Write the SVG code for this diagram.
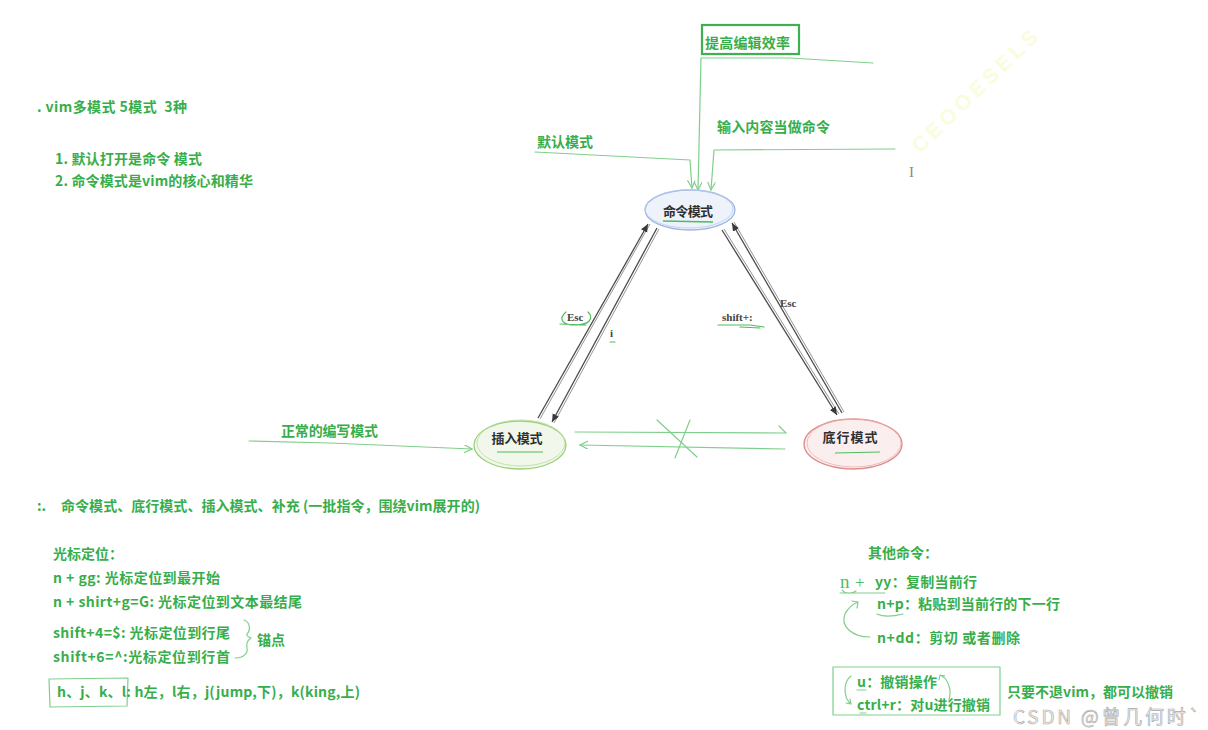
<svg xmlns="http://www.w3.org/2000/svg" width="1208" height="730" viewBox="0 0 1208 730">
<defs>
<style>
.g{font-family:"Noto Sans CJK SC","Noto Sans",sans-serif;font-weight:bold;fill:#37ae4b;font-size:14px}
.n{font-family:"Noto Sans CJK SC","Noto Sans",sans-serif;font-weight:bold;fill:#2f2f2f;font-size:13px}
.s{font-family:"Liberation Serif",serif;font-weight:bold;fill:#444;font-size:11px}
.gl{fill:none;stroke:#7fcf8c;stroke-width:1.2;stroke-linecap:round;stroke-linejoin:round}
.gs{fill:none;stroke:#4fbb5f;stroke-width:1.2;stroke-linecap:round}
.dk{fill:none;stroke:#4a4a4a;stroke-width:1.3}
.dk2{fill:none;stroke:#8a8a8a;stroke-width:0.9}
</style>
<marker id="og" markerWidth="10" markerHeight="10" refX="8" refY="4" orient="auto" markerUnits="userSpaceOnUse">
<path d="M0,0 L8,4 L0,8" fill="none" stroke="#7fcf8c" stroke-width="1.2"/>
</marker>
<marker id="ad" markerWidth="10" markerHeight="10" refX="8" refY="3.5" orient="auto" markerUnits="userSpaceOnUse">
<path d="M0,0 L8,3.5 L0,7 Z" fill="#3a3a3a"/>
</marker>
</defs>
<rect width="1208" height="730" fill="#ffffff"/>

<!-- faint watermark -->
<text x="0" y="0" transform="translate(920,154) rotate(-44)" font-family="Liberation Sans,sans-serif" font-weight="bold" font-size="21" fill="#fafcdc" textLength="166">CEOOESELS</text>
<text x="909" y="177" font-family="Liberation Serif,serif" font-size="15" fill="#888">I</text>

<!-- left notes -->
<g id="intro">
<text class="g" x="37" y="112" textLength="150" xml:space="preserve">. vim多模式 5模式  3种</text>
<text class="g" x="55" y="164" textLength="147">1. 默认打开是命令 模式</text>
<text class="g" x="55" y="186" textLength="198">2. 命令模式是vim的核心和精华</text>
</g>

<g id="efficiency">
<rect x="702" y="25" width="97" height="29" fill="none" stroke="#3fb052" stroke-width="2.2"/>
<text class="g" x="705" y="48" textLength="85">提高编辑效率</text>
</g>
<g id="label-default"><text class="g" x="537" y="147" textLength="56">默认模式</text></g>
<g id="label-input"><text class="g" x="717" y="132" textLength="113">输入内容当做命令</text></g>
<g id="label-normal"><text class="g" x="281" y="436" textLength="97">正常的编写模式</text></g>

<!-- connectors -->
<g id="connectors">
<path class="gl" d="M873,63 L790,58 L701,58 L698,190" marker-end="url(#og)"/>
<path class="gl" d="M535,152 L690,160 L692,188" marker-end="url(#og)"/>
<path class="gl" d="M895,149 L714,150 L711,190" marker-end="url(#og)"/>
<path class="gl" d="M249,441 L330,443 L472,449" marker-end="url(#og)"/>
<path class="gl" d="M575,432 L785,433 M779,426 L786,433"/>
<path class="gl" d="M785,449 L580,445" marker-end="url(#og)"/>
<path class="gl" d="M657,420 L697,457 M690,420 L675,458"/>

<path class="dk2" d="M540,419 L650,224"/>
<path class="dk" d="M538,418 L648,224" marker-end="url(#ad)"/>
<path class="dk2" d="M659,229 L554,423"/>
<path class="dk" d="M657,228 L552,422" marker-end="url(#ad)"/>
<path class="dk2" d="M724,229 L839,414"/>
<path class="dk" d="M722,230 L837,415" marker-end="url(#ad)"/>
<path class="dk2" d="M844,412 L734,222"/>
<path class="dk" d="M842,413 L732,223" marker-end="url(#ad)"/>

<text class="s" x="567" y="321">Esc</text>
<path class="gs" d="M588,312 C594,318 590,325 575,325 C562,325 558,319 566,312 M560,324 L586,325"/>
<text class="s" x="610" y="337">i</text>
<path class="gs" d="M610,342 L615,342"/>
<text class="s" x="722" y="321">shift+:</text>
<path class="gs" d="M718,325 L750,325 L764,327 M740,327 L760,328"/>
<text class="s" x="780" y="307">Esc</text>
</g>

<!-- nodes -->
<g id="node-command">
<ellipse cx="690" cy="210" rx="45" ry="20" fill="#edf2fb" stroke="#9fb7e2" stroke-width="1.3"/>
<ellipse cx="689" cy="209" rx="44" ry="19" fill="none" stroke="#b9cbec" stroke-width="0.8"/>
<text class="n" x="688" y="216" text-anchor="middle" textLength="50">命令模式</text>
<path d="M663,221 L713,222" stroke="#4fbb5f" stroke-width="1.3" fill="none"/>
</g>
<g id="node-insert">
<ellipse cx="520" cy="445" rx="46" ry="24" fill="#f1f7ea" stroke="#9dd07c" stroke-width="1.3"/>
<ellipse cx="521" cy="443" rx="44" ry="23" fill="none" stroke="#b7dd9c" stroke-width="0.8"/>
<text class="n" x="517" y="443" text-anchor="middle" textLength="51">插入模式</text>
<path d="M497,452 L543,452" stroke="#4fbb5f" stroke-width="1.1" fill="none"/>
</g>
<g id="node-bottom">
<ellipse cx="853" cy="444" rx="49" ry="25" fill="#fbeeee" stroke="#e08e8e" stroke-width="1.3"/>
<ellipse cx="854" cy="443" rx="47" ry="24" fill="none" stroke="#eab2b2" stroke-width="0.8"/>
<text class="n" x="850" y="442" text-anchor="middle" textLength="55">底行模式</text>
<path d="M835,453 L880,452" stroke="#4fbb5f" stroke-width="1.1" fill="none"/>
</g>

<!-- section 2 -->
<g id="summary">
<text class="g" x="37" y="511" font-size="13">:.</text>
<text class="g" x="61" y="511" textLength="419">命令模式、底行模式、插入模式、补充 (一批指令，围绕vim展开的)</text>
</g>

<g id="cursor">
<text class="g" x="53" y="559" font-size="13">光标定位：</text>
<text class="g" x="53" y="583" font-size="13" textLength="167">n + gg: 光标定位到最开始</text>
<text class="g" x="53" y="607" font-size="13" textLength="249">n + shirt+g=G: 光标定位到文本最结尾</text>
<text class="g" x="53" y="638" font-size="13" textLength="177">shift+4=$: 光标定位到行尾</text>
<text class="g" x="53" y="662" font-size="13" textLength="177">shift+6=^:光标定位到行首</text>
<path class="gl" d="M244,620 C250,622 251,630 247,634 C246,636 249,637 251,638 C248,640 246,643 247,648 C248,653 244,658 235,658"/>
<text class="g" x="257" y="645" font-size="14">锚点</text>
<path class="gl" d="M49,679 L128,678 L127,706 L50,707 Z"/>
<text class="g" x="57" y="697" font-size="13" textLength="303">h、j、k、l: h左，l右，j(jump,下)，k(king,上)</text>
</g>

<g id="other">
<text class="g" x="868" y="558" font-size="13">其他命令：</text>
<text x="840" y="588" font-family="Liberation Serif,serif" font-size="19" fill="#4fbb5f">n</text>
<text x="855" y="588" font-family="Liberation Serif,serif" font-size="17" fill="#4fbb5f">+</text>
<text class="g" x="875" y="587" font-size="13" textLength="102">yy：复制当前行</text>
<path class="gl" d="M840,593 L885,593 M842,590 C845,594 852,594 856,591"/>
<text class="g" x="877" y="609" font-size="13" textLength="183">n+p：粘贴到当前行的下一行</text>
<path class="gl" d="M877,614 C885,618 895,616 903,614"/>
<text class="g" x="877" y="643" font-size="13" textLength="143">n+dd：剪切 或者删除</text>
<path class="gl" d="M870,637 C852,637 840,626 845,614 C848,608 853,604 858,602 M852,601 L858,602 L857,608"/>
</g>

<g id="undo">
<path class="gl" d="M833,667 L1000,667 L1000,715 L833,715 Z"/>
<text class="g" x="857" y="687" font-size="13" textLength="80">u：撤销操作</text>
<text class="g" x="857" y="710" font-size="13" textLength="133">ctrl+r：对u进行撤销</text>
<path class="gl" d="M851,676 C843,682 843,697 851,704 M846,703 L851,704 L850,699"/>
<path class="gl" d="M949,700 C952,690 948,678 940,675 M939,680 L940,675 L945,676"/>
<path class="gl" d="M857,690 L866,690 M860,713 L866,713"/>
<text class="g" x="1007" y="697" font-size="13" textLength="166">只要不退vim，都可以撤销</text>
</g>

<text x="1013" y="724" font-family="Noto Sans CJK SC,Noto Sans,sans-serif" font-size="19" fill="#f2f2f2" stroke="#a8a8a8" stroke-width="0.6" textLength="187">CSDN @曾几何时`</text>
</svg>
